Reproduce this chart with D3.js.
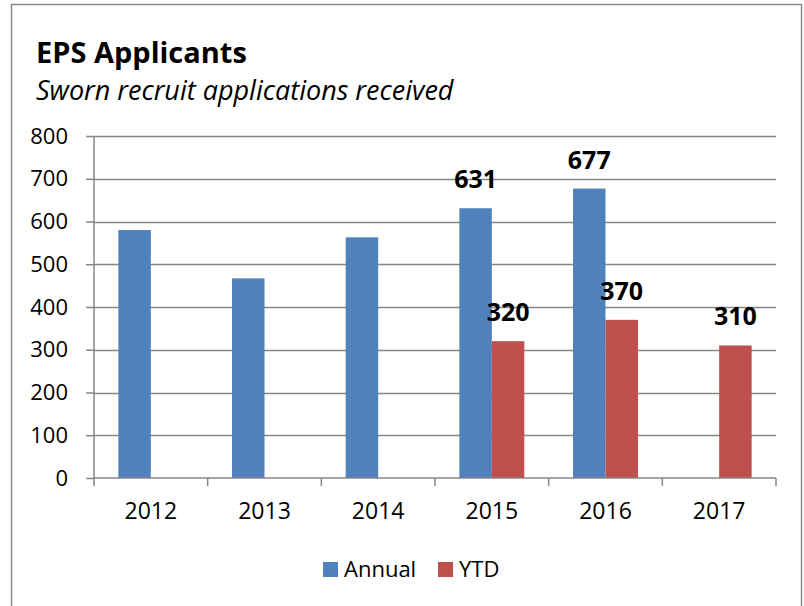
<!DOCTYPE html>
<html>
<head>
<meta charset="utf-8">
<script src="https://cdn.jsdelivr.net/npm/d3@7"></script>
<style>
  body { margin: 0; background: #fff; }
  svg { display: block; font-family: "Open Sans", Lato, sans-serif; }
</style>
</head>
<body>
<svg id="chart" width="804" height="606"></svg>
<script>
const years = ["2012", "2013", "2014", "2015", "2016", "2017"];
const annual = [580, 467, 563, 631, 677, null];
const ytd = [null, null, null, 320, 370, 310];
const seriesNames = ["Annual", "YTD"];
const yTicks = [0, 100, 200, 300, 400, 500, 600, 700, 800];
// only these bars carry a value label
const labelled = {Annual: ["2015", "2016"], YTD: ["2015", "2016", "2017"]};

const colors = {Annual: "#4F81BD", YTD: "#C0504D"};
const gridColor = "#868686";
const font = "Open Sans";

const svg = d3.select("#chart");

// chart frame
svg.append("rect")
  .attr("x", 11.5).attr("y", 4.5)
  .attr("width", 790).attr("height", 620)
  .attr("fill", "#fff")
  .attr("stroke", "#8c8c8c")
  .attr("stroke-width", 1.5);

svg.append("text")
  .attr("x", 36).attr("y", 63)
  .attr("font-size", 29).attr("font-weight", "bold")
  .text("EPS Applicants");

svg.append("text")
  .attr("x", 36).attr("y", 100)
  .attr("font-size", 27).attr("font-style", "italic")
  .text("Sworn recruit applications received");

const plotL = 94, plotR = 776, plotT = 136, plotB = 478;

const y = d3.scaleLinear().domain([0, 800]).range([plotB, plotT]);
const x = d3.scaleBand().domain(years).range([plotL, plotR]);
const xs = d3.scaleBand().domain(seriesNames).range([0, x.bandwidth()])
  .paddingInner(0).paddingOuter(0.75);

// gridlines
svg.append("g")
  .selectAll("line").data(yTicks.filter(d => d > 0))
  .join("line")
  .attr("x1", plotL).attr("x2", plotR)
  .attr("y1", d => Math.round(y(d)) + 0.5).attr("y2", d => Math.round(y(d)) + 0.5)
  .attr("stroke", gridColor).attr("stroke-width", 1.5);

// y axis
const yAxis = svg.append("g")
  .attr("transform", `translate(${plotL},0)`)
  .call(d3.axisLeft(y).tickValues(yTicks).tickSize(8).tickPadding(18));
yAxis.selectAll("line, path").attr("stroke", gridColor).attr("stroke-width", 1.5);
yAxis.select(".domain").attr("d", `M0,${plotT}V${plotB}`);
yAxis.selectAll("text").attr("font-size", 22).attr("font-family", font).attr("fill", "#000");

// bars
const rows = [];
years.forEach((yr, i) => {
  if (annual[i] != null) rows.push({year: yr, s: "Annual", v: annual[i]});
  if (ytd[i] != null) rows.push({year: yr, s: "YTD", v: ytd[i]});
});

svg.append("g")
  .selectAll("rect").data(rows)
  .join("rect")
  .attr("x", d => x(d.year) + xs(d.s))
  .attr("y", d => y(d.v))
  .attr("width", xs.bandwidth())
  .attr("height", d => y(0) - y(d.v))
  .attr("fill", d => colors[d.s]);

// x axis
const xAxis = svg.append("g")
  .attr("transform", `translate(0,${plotB})`)
  .call(d3.axisBottom(x).tickSize(0).tickPadding(25));
xAxis.select(".domain").attr("d", `M${plotL},0H${plotR}`)
  .attr("stroke", gridColor).attr("stroke-width", 1.5);
xAxis.selectAll("text").attr("font-size", 23).attr("font-family", font).attr("fill", "#000");
xAxis.append("g").selectAll("line")
  .data(years.map(yr => x(yr)).concat([plotR]))
  .join("line")
  .attr("x1", d => d).attr("x2", d => d)
  .attr("y1", 0).attr("y2", 8)
  .attr("stroke", gridColor).attr("stroke-width", 1.5);

// value labels
svg.append("g")
  .selectAll("text").data(rows.filter(d => labelled[d.s].includes(d.year)))
  .join("text")
  .attr("x", d => x(d.year) + xs(d.s) + xs.bandwidth() / 2)
  .attr("y", d => y(d.v) - 20)
  .attr("text-anchor", "middle")
  .attr("font-size", 25).attr("font-weight", "bold")
  .text(d => d.v);

// legend
const legend = svg.append("g").attr("transform", "translate(323,562)");
const legX = {Annual: 0, YTD: 115};
seriesNames.forEach(s => {
  const g = legend.append("g").attr("transform", `translate(${legX[s]},0)`);
  g.append("rect").attr("width", 15).attr("height", 15).attr("fill", colors[s]);
  g.append("text").attr("x", 21).attr("y", 15).attr("font-size", 22).text(s);
});
</script>
</body>
</html>
